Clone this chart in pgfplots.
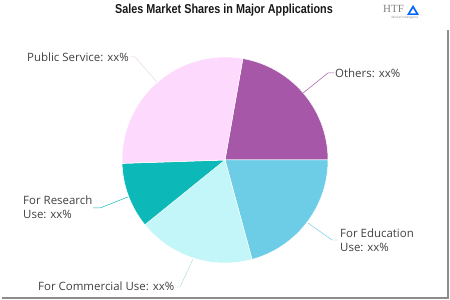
\documentclass[border=0pt]{standalone}
\usepackage{pgfplots}
\usepackage{pgfplotstable}
\pgfplotsset{compat=1.18}
\usepackage{fontspec}
\setmainfont{Open Sans}
\newfontfamily\titlefont{Liberation Sans}
\newfontfamily\logofont{Liberation Serif}
\definecolor{pie0}{HTML}{A757A8}
\definecolor{pie1}{HTML}{6DCDE6}
\definecolor{pie2}{HTML}{C2F6F8}
\definecolor{pie3}{HTML}{0DB8B9}
\definecolor{pie4}{HTML}{FDDAFD}
\definecolor{lbl}{HTML}{404040}
\pgfplotstableread{
label share
Others 22.2
Education 20.8
Commercial 18.4
Research 10.3
Public 28.3
}\pietable
\begin{document}
\begin{tikzpicture}
\path (0,0) rectangle (450bp,300bp);
% cumulative angles, starting at 80 degrees, clockwise
\xdef\cum{80}
\pgfplotsinvokeforeach{0,...,4}{%
  \pgfplotstablegetelem{#1}{share}\of\pietable
  \pgfmathsetmacro\s{\cum-3.6*\pgfplotsretval}%
  \expandafter\xdef\csname pieS#1\endcsname{\cum}%
  \expandafter\xdef\csname pieE#1\endcsname{\s}%
  \xdef\cum{\s}%
}
\begin{axis}[
  at={(225bp,140bp)}, anchor=center,
  width=206bp, height=206bp, scale only axis,
  xmin=-1, xmax=1, ymin=-1, ymax=1,
  hide axis, clip=false,
]
\pgfplotsinvokeforeach{0,...,4}{%
  \edef\tmp{\noexpand\addplot[fill=pie#1, draw=white, line width=0.5pt,
     domain=\csname pieE#1\endcsname:\csname pieS#1\endcsname, samples=90]
     ({cos(x)},{sin(x)}) -- (axis cs:0,0) -- cycle;}%
  \tmp
}
\end{axis}
% title
\node[font=\titlefont\bfseries\fontsize{13}{15}\selectfont, text=black!90] at (224bp,290bp)
  {\scalebox{0.835}[1]{Sales Market Shares in Major Applications}};
% logo
\node[font=\logofont\fontsize{11}{11}\selectfont, text=gray, anchor=west, inner sep=0pt] at (383bp,291bp) {HTF};
\fill[blue!60!cyan] (407bp,285bp) -- (413bp,295bp) -- (419bp,285bp) -- cycle;
\fill[white] (410bp,286.5bp) -- (413bp,291.5bp) -- (416bp,286.5bp) -- cycle;
\node[font=\fontsize{3}{3}\selectfont, text=gray, inner sep=0pt] at (405bp,282bp) {Market Intelligence};
% frame
\draw[gray!90, line width=1.5bp] (2bp,2bp) -- (448bp,2bp) -- (448bp,270bp);
% labels
\begin{scope}[every node/.style={font=\fontsize{11.5}{14}\selectfont, text=lbl, inner sep=0pt, anchor=west, align=left}]
\node at (27bp,243bp) {Public Service: xx\%};
\node at (335bp,227bp) {Others: xx\%};
\node at (340bp,60bp) {For Education\\Use: xx\%};
\node at (38bp,14bp) {For Commercial Use: xx\%};
\node at (23bp,93bp) {For Research\\Use: xx\%};
\end{scope}
% leader lines
\draw[pie4!70!gray!60, line width=0.5pt] (130bp,243bp) -- (135bp,243bp) -- (157bp,218bp);
\draw[pie0, line width=0.5pt] (303bp,207bp) -- (328bp,227bp) -- (334bp,227bp);
\draw[pie1, line width=0.5pt] (308bp,77bp) -- (332bp,60bp) -- (338bp,60bp);
\draw[pie2!80!gray, line width=0.5pt] (175bp,13bp) -- (180bp,13bp) -- (193bp,41bp);
\draw[pie3, line width=0.5pt] (93bp,92bp) -- (100bp,92bp) -- (128bp,103bp);
\end{tikzpicture}
\end{document}
